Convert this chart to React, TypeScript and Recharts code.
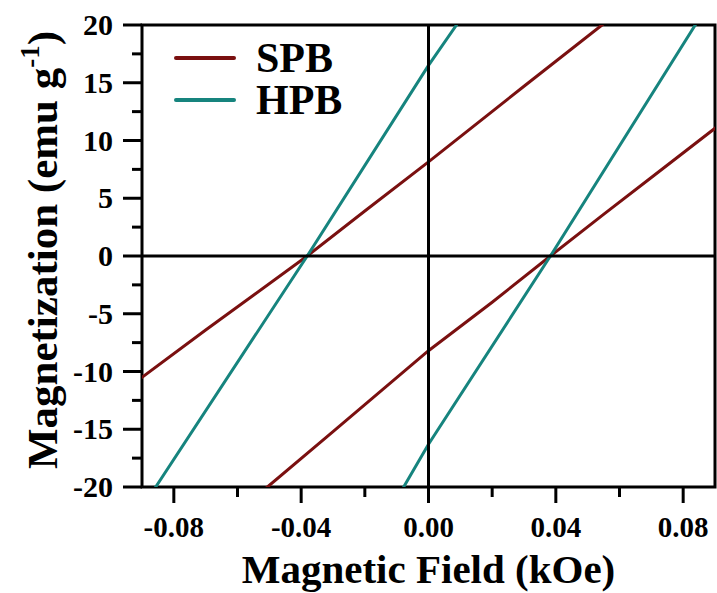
import React from "react";
import {
  LineChart,
  Line,
  XAxis,
  YAxis,
  ReferenceLine,
  ReferenceArea,
  Legend,
} from "recharts";

// hysteresis loops: descending branch (high -> low field), then ascending branch
const spbField = [0.1, 0.07, 0.0545, 0.03, 0, -0.02, -0.0381, -0.055, -0.07, -0.09, -0.1,
  -0.1, -0.07, -0.0506, -0.03, 0, 0.02, 0.0383, 0.055, 0.07, 0.09, 0.1];
const spbMag = [29.9, 23.4, 20, 14.7, 8.15, 3.9, 0, -3.4, -6.4, -10.5, -12.5,
  -31.5, -24.5, -20, -15.2, -8.2, -4, 0, 3.6, 6.8, 11.06, 13.2];

const hpbField = [0.02, 0.0088, 0, -0.0381, -0.0857, -0.095,
  -0.02, -0.0078, 0, 0.0383, 0.0838, 0.095];
const hpbMag = [24.8, 20, 16.5, 0, -20, -24,
  -24.8, -20, -16.3, 0, 20, 24.8];

const xTicks = [-0.08, -0.06, -0.04, -0.02, 0, 0.02, 0.04, 0.06, 0.08];
const yTicks = [-20, -17.5, -15, -12.5, -10, -7.5, -5, -2.5, 0, 2.5, 5, 7.5, 10, 12.5, 15, 17.5, 20];

const seriesNames = ["SPB", "HPB"];
const seriesColors = ["#7a1010", "#16847e"];

const spbData = spbField.map((h, i) => ({ h, m: spbMag[i] }));
const hpbData = hpbField.map((h, i) => ({ h, m: hpbMag[i] }));

const FONT = "Liberation Serif, Tinos, DejaVu Serif, serif";

const isMajor = (v: number, step: number) =>
  Math.abs(v / step - Math.round(v / step)) < 1e-6;

const XTick = (props: any) => {
  const { x, y, payload } = props;
  const v = payload.value as number;
  const major = isMajor(v, 0.04);
  return (
    <g>
      <line x1={x} x2={x} y1={y} y2={y + (major ? 16 : 10)} stroke="#000" strokeWidth={3} />
      {major && (
        <text x={x} y={y + 50} textAnchor="middle" style={{ fontFamily: FONT, fontWeight: "bold", fontSize: 29 }} fill="#000">
          {v.toFixed(2)}
        </text>
      )}
    </g>
  );
};

const YTick = (props: any) => {
  const { x, y, payload } = props;
  const v = payload.value as number;
  const major = isMajor(v, 5);
  return (
    <g>
      <line x1={x - (major ? 19 : 10)} x2={x} y1={y} y2={y} stroke="#000" strokeWidth={3} />
      {major && (
        <text x={x - 29} y={y + 10} textAnchor="end" style={{ fontFamily: FONT, fontWeight: "bold", fontSize: 30 }} fill="#000">
          {v}
        </text>
      )}
    </g>
  );
};

const YTitle = () => (
  <text
    transform="translate(57, 250) rotate(-90)"
    textAnchor="middle"
    style={{ fontFamily: FONT, fontWeight: "bold", fontSize: 43 }}
    fill="#000"
  >
    Magnetization (emu g
    <tspan dy={-18} style={{ fontSize: 27 }}>-1</tspan>
    <tspan dy={18} style={{ fontSize: 43 }}>)</tspan>
  </text>
);

const LegendBox = () => (
  <div style={{ fontFamily: FONT, fontWeight: "bold", fontSize: 42, lineHeight: "42px" }}>
    {seriesNames.map((name, i) => (
      <div key={name} style={{ display: "flex", alignItems: "center", height: 42 }}>
        <svg width={82} height={10}>
          <line x1={2} x2={60} y1={5} y2={5} stroke={seriesColors[i]} strokeWidth={4} strokeLinecap="round" />
        </svg>
        <span>{name}</span>
      </div>
    ))}
  </div>
);

export default function App() {
  return (
    <div style={{ position: "absolute", left: 0, top: 0, width: 717, height: 593, background: "#fff" }}>
      <LineChart width={717} height={593} margin={{ top: 25, right: 2, bottom: 0, left: 0 }}>
        <XAxis
          type="number"
          dataKey="h"
          domain={[-0.09, 0.09]}
          ticks={xTicks}
          interval={0}
          allowDataOverflow
          height={106}
          axisLine={false}
          tickLine={false}
          tickSize={0}
          tickMargin={0}
          tick={<XTick />}
          label={{
            value: "Magnetic Field (kOe)",
            position: "insideBottom",
            offset: 10,
            style: { fontFamily: FONT, fontWeight: "bold", fontSize: 41, fill: "#000" },
          }}
        />
        <YAxis
          type="number"
          dataKey="m"
          domain={[-20, 20]}
          ticks={yTicks}
          interval={0}
          allowDataOverflow
          width={142}
          axisLine={false}
          tickLine={false}
          tickSize={0}
          tickMargin={0}
          tick={<YTick />}
          label={{ content: () => <YTitle /> }}
        />
        <Legend
          layout="horizontal"
          verticalAlign="middle"
          align="center"
          wrapperStyle={{ position: "absolute", left: 174, top: 37, width: "auto", height: "auto" }}
          content={() => <LegendBox />}
        />
        <Line
          data={spbData}
          dataKey="m"
          name={seriesNames[0]}
          type="linear"
          stroke={seriesColors[0]}
          strokeWidth={3}
          dot={false}
          isAnimationActive={false}
        />
        <Line
          data={hpbData}
          dataKey="m"
          name={seriesNames[1]}
          type="linear"
          stroke={seriesColors[1]}
          strokeWidth={3}
          dot={false}
          isAnimationActive={false}
        />
        <ReferenceLine x={0} stroke="#000" strokeWidth={3} />
        <ReferenceLine y={0} stroke="#000" strokeWidth={3} />
        <ReferenceArea x1={-0.09} x2={0.09} y1={-20} y2={20} fill="none" stroke="#000" strokeWidth={3} ifOverflow="visible" />
      </LineChart>
    </div>
  );
}
